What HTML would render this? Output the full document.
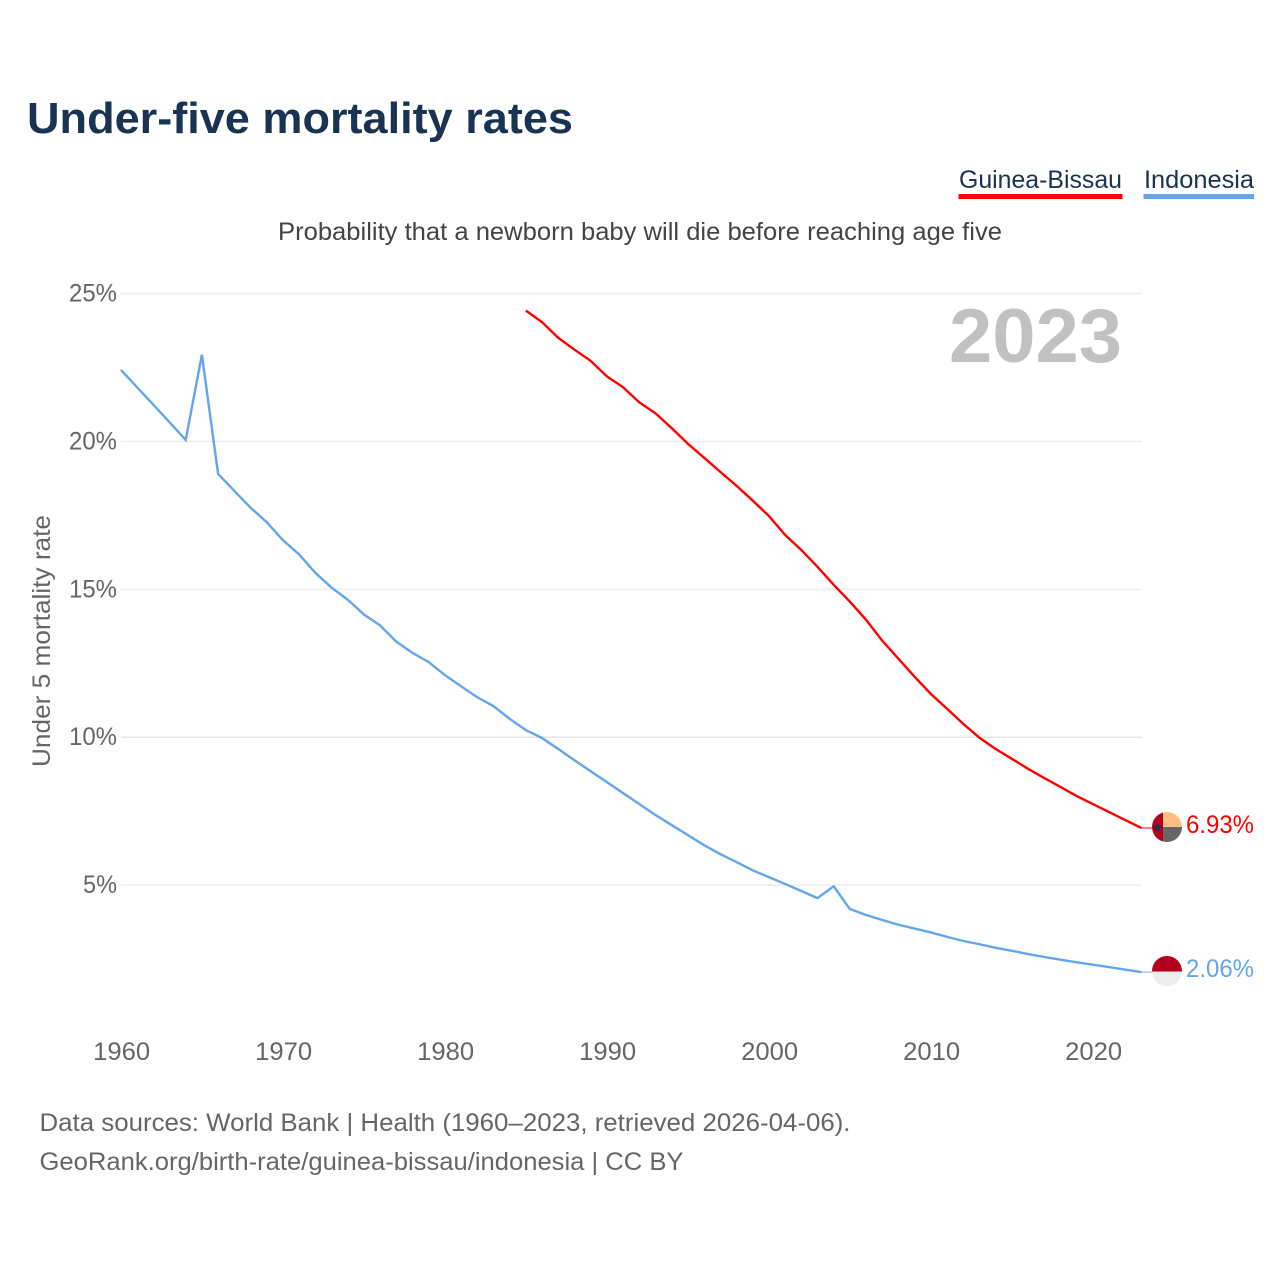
<!DOCTYPE html>
<html lang="en">
<head>
<meta charset="utf-8">
<title>Under-five mortality rates</title>
<style>
html,body{margin:0;padding:0;background:#fff;}
svg{display:block;}
text{font-family:"Liberation Sans",sans-serif;}
</style>
</head>
<body>
<svg id="chart" width="1280" height="1280" viewBox="0 0 1280 1280" xmlns="http://www.w3.org/2000/svg">
  <defs>
    <clipPath id="clip-gw"><circle cx="1167" cy="827" r="15"/></clipPath>
    <clipPath id="clip-id"><circle cx="1167" cy="971" r="15"/></clipPath>
  </defs>
  <rect x="0" y="0" width="1280" height="1280" fill="#fff"/>

  <text x="27" y="133" font-size="44" font-weight="700" fill="#1a3352" textLength="546" lengthAdjust="spacingAndGlyphs">Under-five mortality rates</text>

  <g>
    <text x="959" y="188" font-size="25" fill="#1a3352" textLength="163" lengthAdjust="spacingAndGlyphs">Guinea-Bissau</text>
    <rect x="958.5" y="194" width="164" height="5" fill="#ff0000"/>
  </g>
  <g>
    <text x="1144" y="188" font-size="25" fill="#1a3352" textLength="110" lengthAdjust="spacingAndGlyphs">Indonesia</text>
    <rect x="1143.5" y="194" width="110.5" height="5" fill="#63a6ec"/>
  </g>

  <text x="278" y="240" font-size="25" fill="#444444" textLength="724" lengthAdjust="spacingAndGlyphs">Probability that a newborn baby will die before reaching age five</text>

  <g id="grid"></g>
  <g id="yticks"></g>
  <g id="xticks"></g>

  <text x="949" y="362" font-size="76" font-weight="700" fill="#c1c1c1" textLength="173" lengthAdjust="spacingAndGlyphs">2023</text>

  <text transform="translate(50,767) rotate(-90)" x="0" y="0" font-size="25" fill="#666666" textLength="252" lengthAdjust="spacingAndGlyphs">Under 5 mortality rate</text>

  <g id="series"></g>

  <g clip-path="url(#clip-gw)">
    <rect x="1152" y="812" width="11" height="30" fill="#b3001f"/>
    <rect x="1163" y="812" width="19" height="15" fill="#ffbe85"/>
    <rect x="1163" y="827" width="19" height="15" fill="#666666"/>
    <polygon points="1157.5,822.5 1158.8,826 1162.4,826 1159.5,828.2 1160.6,831.6 1157.5,829.6 1154.4,831.6 1155.5,828.2 1152.6,826 1156.2,826" fill="#1a3352"/>
  </g>
  <g clip-path="url(#clip-id)">
    <rect x="1152" y="956" width="30" height="15.5" fill="#b3001f"/>
    <rect x="1152" y="971.5" width="30" height="15" fill="#ececec"/>
  </g>

  <text x="1186" y="833" font-size="25" fill="#ff0000" textLength="68" lengthAdjust="spacingAndGlyphs">6.93%</text>
  <text x="1186" y="977" font-size="25" fill="#63a6ec" textLength="68" lengthAdjust="spacingAndGlyphs">2.06%</text>

  <text x="39.5" y="1131" font-size="25" fill="#666666" textLength="811" lengthAdjust="spacingAndGlyphs">Data sources: World Bank | Health (1960–2023, retrieved 2026-04-06).</text>
  <text x="39.5" y="1170" font-size="25" fill="#666666" textLength="644" lengthAdjust="spacingAndGlyphs">GeoRank.org/birth-rate/guinea-bissau/indonesia | CC BY</text>
</svg>

<script>
const xTickYears = [1960, 1970, 1980, 1990, 2000, 2010, 2020];
const yTickValues = [5, 10, 15, 20, 25];
const yTickLabels = ["5%", "10%", "15%", "20%", "25%"];

const indonesiaStartYear = 1960;
const indonesiaValues = [22.42, 21.83, 21.24, 20.65, 20.05, 22.93, 18.90, 18.33, 17.76, 17.27,
  16.66, 16.18, 15.56, 15.06, 14.65, 14.15, 13.78, 13.23, 12.85, 12.54,
  12.10, 11.72, 11.35, 11.05, 10.62, 10.24, 9.97, 9.60, 9.22, 8.85,
  8.48, 8.11, 7.74, 7.37, 7.03, 6.69, 6.35, 6.05, 5.78, 5.50,
  5.27, 5.04, 4.80, 4.56, 4.96, 4.19, 3.99, 3.82, 3.66, 3.53,
  3.40, 3.25, 3.11, 3.00, 2.88, 2.78, 2.67, 2.57, 2.48, 2.39,
  2.31, 2.23, 2.14, 2.06];

const guineaBissauStartYear = 1985;
const guineaBissauValues = [24.42, 24.03, 23.50, 23.10, 22.72,
  22.20, 21.83, 21.32, 20.95, 20.45, 19.92, 19.45, 18.97, 18.50, 18.00,
  17.48, 16.84, 16.33, 15.76, 15.15, 14.58, 13.97, 13.26, 12.65, 12.04,
  11.46, 10.96, 10.45, 9.98, 9.60, 9.27, 8.93, 8.62, 8.32, 8.01,
  7.74, 7.47, 7.20, 6.93];

const SVGNS = "http://www.w3.org/2000/svg";
function xScale(year) { return 120.9 + (year - 1960) * 16.2; }
function yScale(v) { return 1033 - v * 29.58; }

function seriesPoints(start, values) {
  return values.map(function (v, i) {
    return xScale(start + i).toFixed(2) + "," + yScale(v).toFixed(2);
  }).join(" ");
}

const grid = document.getElementById("grid");
const yticks = document.getElementById("yticks");
const xticks = document.getElementById("xticks");
const series = document.getElementById("series");

yTickValues.forEach(function (v, i) {
  const line = document.createElementNS(SVGNS, "line");
  
  
  line.setAttribute("x1", 121);
  line.setAttribute("x2", 1142);
  line.setAttribute("y1", yScale(v));
  line.setAttribute("y2", yScale(v));
  line.setAttribute("stroke", v === 10 ? "#dddddd" : "#ececec");
  line.setAttribute("stroke-width", 1.2);
  grid.appendChild(line);

  const label = document.createElementNS(SVGNS, "text");
  
  
  label.setAttribute("x", 117);
  label.setAttribute("y", yScale(v) + 8);
  label.setAttribute("text-anchor", "end");
  label.setAttribute("font-size", 25);
  label.setAttribute("fill", "#666666");
  label.setAttribute("textLength", yTickLabels[i].length === 2 ? 34 : 48);
  label.setAttribute("lengthAdjust", "spacingAndGlyphs");
  label.textContent = yTickLabels[i];
  yticks.appendChild(label);
});

xTickYears.forEach(function (year) {
  const label = document.createElementNS(SVGNS, "text");
  
  
  label.setAttribute("x", xScale(year) + 0.8);
  label.setAttribute("y", 1060);
  label.setAttribute("text-anchor", "middle");
  label.setAttribute("font-size", 25);
  label.setAttribute("fill", "#666666");
  label.setAttribute("textLength", 57);
  label.setAttribute("lengthAdjust", "spacingAndGlyphs");
  label.textContent = String(year);
  xticks.appendChild(label);
});

const indonesiaLine = document.createElementNS(SVGNS, "polyline");


indonesiaLine.setAttribute("points", seriesPoints(indonesiaStartYear, indonesiaValues));
indonesiaLine.setAttribute("fill", "none");
indonesiaLine.setAttribute("stroke", "#63a6ec");
indonesiaLine.setAttribute("stroke-width", 2.4);
series.appendChild(indonesiaLine);

const guineaLine = document.createElementNS(SVGNS, "polyline");


guineaLine.setAttribute("points", seriesPoints(guineaBissauStartYear, guineaBissauValues));
guineaLine.setAttribute("fill", "none");
guineaLine.setAttribute("stroke", "#ff0000");
guineaLine.setAttribute("stroke-width", 2.4);
series.appendChild(guineaLine);

const indonesiaEnd = indonesiaValues[indonesiaValues.length - 1];
const guineaEnd = guineaBissauValues[guineaBissauValues.length - 1];

const indonesiaTail = document.createElementNS(SVGNS, "line");


indonesiaTail.setAttribute("x1", xScale(2023));
indonesiaTail.setAttribute("x2", 1152);
indonesiaTail.setAttribute("y1", yScale(indonesiaEnd));
indonesiaTail.setAttribute("y2", yScale(indonesiaEnd));
indonesiaTail.setAttribute("stroke", "#8fa8c0");
indonesiaTail.setAttribute("stroke-width", 1);
series.appendChild(indonesiaTail);

const guineaTail = document.createElementNS(SVGNS, "line");


guineaTail.setAttribute("x1", xScale(2023));
guineaTail.setAttribute("x2", 1152);
guineaTail.setAttribute("y1", yScale(guineaEnd));
guineaTail.setAttribute("y2", yScale(guineaEnd));
guineaTail.setAttribute("stroke", "#ff0000");
guineaTail.setAttribute("stroke-width", 1);
series.appendChild(guineaTail);
</script>
</body>
</html>
